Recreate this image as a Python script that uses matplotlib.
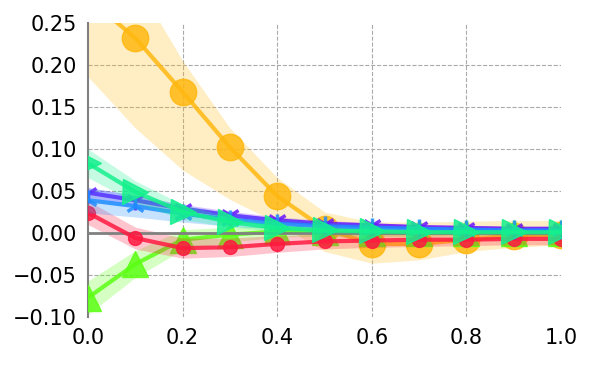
import numpy as np
import matplotlib
matplotlib.use("Agg")
import matplotlib.pyplot as plt

x = [0.0, 0.1, 0.2, 0.3, 0.4, 0.5, 0.6, 0.7, 0.8, 0.9, 1.0]

orange = [0.28, 0.232, 0.168, 0.102, 0.044, 0.005, -0.013, -0.013, -0.008, -0.003, -0.002]
orange_lo = [0.186, 0.125, 0.075, 0.04, 0.012, -0.022, -0.036, -0.032, -0.022, -0.017, -0.014]
orange_hi = [0.34, 0.30, 0.205, 0.125, 0.066, 0.025, 0.013, 0.013, 0.014, 0.015, 0.015]

red = [0.024, -0.006, -0.018, -0.017, -0.013, -0.010, -0.009, -0.008, -0.008, -0.007, -0.007]
red_err = [0.014, 0.013, 0.012, 0.011, 0.010, 0.009, 0.008, 0.008, 0.007, 0.007, 0.007]

lime = [-0.077, -0.037, -0.008, -0.002, 0.002, 0.001, 0.0, 0.0, 0.0, 0.0, 0.0]
lime_err = [0.02, 0.016, 0.012, 0.009, 0.007, 0.005, 0.004, 0.004, 0.003, 0.003, 0.003]

spring = [0.083, 0.049, 0.025, 0.013, 0.006, 0.003, 0.002, 0.001, 0.001, 0.001, 0.001]
spring_err = [0.017, 0.013, 0.009, 0.006, 0.004, 0.003, 0.003, 0.002, 0.002, 0.002, 0.002]

purple = [0.048, 0.039, 0.029, 0.021, 0.015, 0.011, 0.009, 0.007, 0.006, 0.005, 0.005]
purple_err = [0.006, 0.006, 0.005, 0.005, 0.004, 0.004, 0.003, 0.003, 0.003, 0.003, 0.003]

blue = [0.039, 0.032, 0.023, 0.016, 0.011, 0.008, 0.006, 0.005, 0.004, 0.003, 0.003]
blue_err = [0.015, 0.013, 0.010, 0.008, 0.006, 0.005, 0.004, 0.003, 0.003, 0.003, 0.003]

xticks = [0.0, 0.2, 0.4, 0.6, 0.8, 1.0]
yticks = [-0.10, -0.05, 0.0, 0.05, 0.10, 0.15, 0.20, 0.25]

fig = plt.figure(figsize=(6, 3.75), dpi=100)
ax = fig.add_axes([0.1467, 0.1547, 0.7883, 0.784])

xa = np.array(x)

def series(y, lo, hi, color, marker, ms, z, band_alpha=0.25, mew=1.0):
    ax.fill_between(xa, lo, hi, color=color, alpha=band_alpha, lw=0, zorder=z)
    ax.plot(xa, y, color=color, lw=3, marker=marker, ms=ms, alpha=0.85,
            mew=mew, zorder=z + 0.5, clip_on=True)

series(orange, orange_lo, orange_hi, "#FFB810", "o", 19, 2)
ly = np.array(lime); le = np.array(lime_err)
series(lime, ly - le, ly + le, "#5CFF14", "^", 19, 3)
ry = np.array(red); re = np.array(red_err)
series(red, ry - re, ry + re, "#FF1A40", "o", 10, 4)
py = np.array(purple); pe = np.array(purple_err)
series(purple, py - pe, py + pe, "#6A14FF", "1", 14, 5, mew=2.5)
by = np.array(blue); be = np.array(blue_err)
series(blue, by - be, by + be, "#1E8CFF", "2", 14, 6, mew=2.5)
sy = np.array(spring); se = np.array(spring_err)
series(spring, sy - se, sy + se, "#14F08C", ">", 18, 7)

ax.axhline(0, color="#808080", lw=2, zorder=4.2)
ax.set_xlim(0, 1)
ax.set_ylim(-0.10, 0.25)
ax.set_xticks(xticks)
ax.set_yticks(yticks)
ax.set_xticklabels([f"{v:.1f}" for v in xticks])
ax.set_yticklabels([f"{v:.2f}".replace("-", "\u2212") for v in yticks])
ax.tick_params(length=0, labelsize=15, pad=8)
ax.grid(True, ls="--", color="#aaaaaa", lw=0.8, zorder=0)
xg = ax.xaxis.get_gridlines()
yg = ax.yaxis.get_gridlines()
xg[0].set_visible(False); xg[-1].set_visible(False)
yg[0].set_visible(False); yg[-1].set_visible(False)
for s in ["top", "right", "bottom"]:
    ax.spines[s].set_visible(False)
ax.spines["left"].set_color("#808080")
ax.spines["left"].set_linewidth(1.5)

fig.savefig("out.png", dpi=100)
